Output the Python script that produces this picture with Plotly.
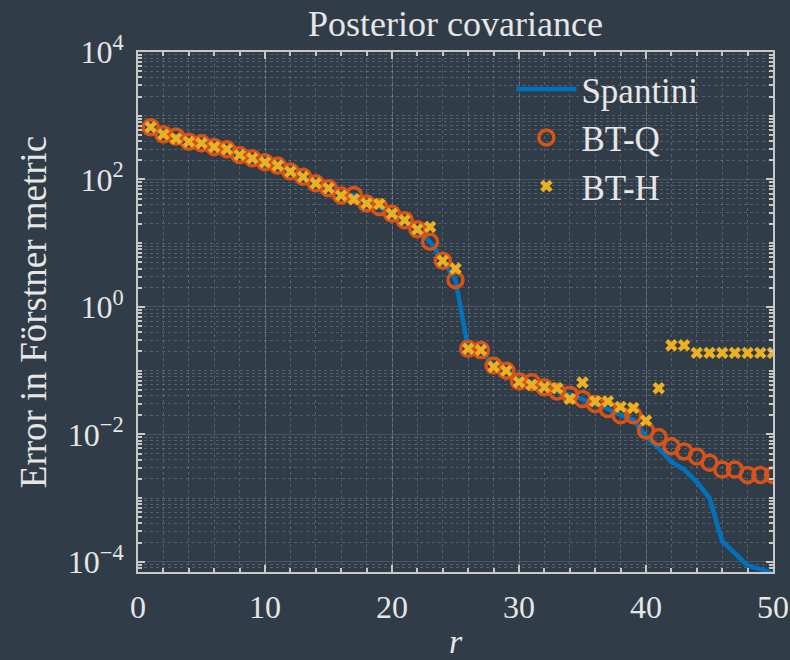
import plotly.graph_objects as go

r = list(range(1, 51))

spantini = [660, 510, 470, 390, 370, 324, 298, 242, 215, 186,
            165, 133, 110, 87, 73, 56, 57, 42, 37, 29,
            23, 16.5, 10.5, 5.3, 2.65, 0.22, 0.21, 0.12, 0.10, 0.068,
            0.066, 0.055, 0.047, 0.042, 0.036, 0.030, 0.025, 0.020, 0.017, 0.0093,
            0.0061, 0.0037, 0.0028, 0.0018, 0.0010, 0.00021, 0.000137, 0.000087, 0.000077, 0.000066]

bt_q = [660, 510, 470, 390, 370, 324, 298, 242, 215, 186,
        165, 133, 110, 87, 73, 56, 57, 42, 37, 29,
        23, 16.5, 10.5, 5.3, 2.65, 0.22, 0.21, 0.12, 0.10, 0.068,
        0.066, 0.055, 0.047, 0.042, 0.036, 0.030, 0.025, 0.020, 0.020, 0.0115,
        0.0091, 0.0065, 0.0054, 0.0045, 0.0036, 0.0028, 0.0028, 0.0023, 0.0023, 0.0023]

bt_h = [660, 510, 440, 390, 370, 324, 298, 242, 215, 186,
        165, 133, 110, 87, 73, 56, 49, 42, 41, 29,
        23, 16.5, 18, 5.3, 4.0, 0.22, 0.21, 0.115, 0.10, 0.066,
        0.060, 0.055, 0.053, 0.036, 0.065, 0.033, 0.033, 0.027, 0.026, 0.0165,
        0.053, 0.25, 0.25, 0.19, 0.19, 0.19, 0.19, 0.19, 0.19, 0.19]

y_tickvals = [1e-4, 1e-2, 1e0, 1e2, 1e4]
y_ticktext = ["10<sup>−4</sup>", "10<sup>−2</sup>", "10<sup>0</sup>", "10<sup>2</sup>", "10<sup>4</sup>"]
x_tickvals = [0, 10, 20, 30, 40, 50]

BG = "#303c48"
TXT = "#e6e6e6"
AX = "#c8c8c8"
FONT = "Liberation Serif, serif"

y_minor = [k * 10.0 ** e for e in range(-5, 4) for k in range(1, 10)
           if not (k == 1 and e % 2 == 0)]

fig = go.Figure()
fig.add_trace(go.Scatter(x=r, y=spantini, mode="lines", name="Spantini",
                         line=dict(color="#0072BD", width=4.5), legendgroup="a"))
fig.add_trace(go.Scatter(x=r, y=bt_q, mode="markers", name="BT-Q",
                         marker=dict(symbol="circle-open", size=15, color="#D95319",
                                     line=dict(width=3.5, color="#D95319")),
                         legendgroup="b"))
fig.add_trace(go.Scatter(x=r, y=bt_h, mode="markers", name="BT-H",
                         marker=dict(symbol="x", size=11, color="#EDB120",
                                     line=dict(width=0)),
                         legendgroup="c"))

fig.update_layout(
    width=790, height=660,
    paper_bgcolor=BG, plot_bgcolor=BG,
    margin=dict(l=138, r=17, t=52, b=88),
    font=dict(family=FONT, color=TXT, size=30),
    title=dict(text="Posterior covariance", x=(138 + 773) / 2 / 790, xanchor="center",
               y=1 - 23 / 660, yanchor="middle",
               font=dict(family=FONT, size=36, color=TXT)),
    legend=dict(x=0.588, y=0.985, xanchor="left", yanchor="top",
                bgcolor="rgba(0,0,0,0)", font=dict(family=FONT, size=35, color=TXT),
                traceorder="grouped", tracegroupgap=0, itemwidth=60),
    showlegend=True,
)

fig.update_xaxes(
    range=[0, 50], tickvals=x_tickvals, ticks="inside", ticklen=7, tickwidth=1.5,
    tickcolor=AX, showline=True, linecolor=AX, linewidth=2, mirror="ticks",
    showgrid=True, gridcolor="rgba(255,255,255,0.13)", gridwidth=1,
    zeroline=False, automargin=False,
    tickfont=dict(family=FONT, size=32, color=TXT), ticklabelstandoff=6,
    title=dict(text="<i>r</i>", font=dict(family=FONT, size=34, color=TXT), standoff=6),
    minor=dict(dtick=2, showgrid=True, gridcolor="rgba(255,255,255,0.18)",
               griddash="dot", ticks="inside", ticklen=4, tickcolor=AX),
)
fig.update_yaxes(
    type="log", range=[-4.16, 4], tickvals=y_tickvals, ticktext=y_ticktext,
    ticks="inside", ticklen=7, tickwidth=1.5, tickcolor=AX,
    showline=True, linecolor=AX, linewidth=2, mirror="ticks",
    showgrid=True, gridcolor="rgba(255,255,255,0.13)", gridwidth=1,
    zeroline=False, automargin=False,
    tickfont=dict(family=FONT, size=32, color=TXT), ticklabelstandoff=6,
    title=dict(text="Error in Förstner metric", font=dict(family=FONT, size=37, color=TXT),
               standoff=10),
    minor=dict(tickvals=y_minor, showgrid=True, gridcolor="rgba(255,255,255,0.18)",
               griddash="dot", ticks="inside", ticklen=4, tickcolor=AX),
)

fig.write_html("out.html")
